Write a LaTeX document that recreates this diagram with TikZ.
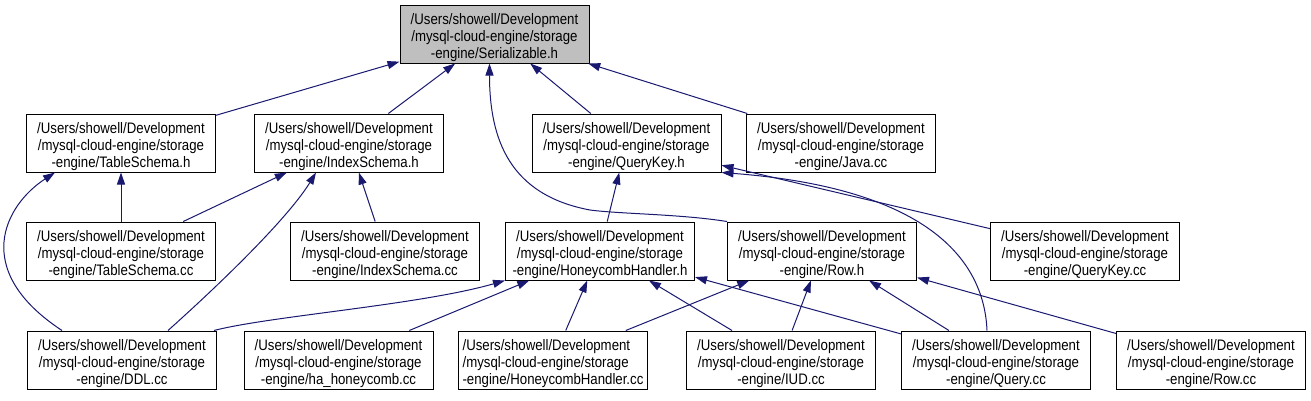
\documentclass[tikz,border=0pt]{standalone}
\usepackage{fontspec}
\setmainfont{Liberation Sans}[FakeStretch=0.87]
\usetikzlibrary{arrows.meta,calc}
\definecolor{edgeblue}{HTML}{191970}
\newcommand{\fstrut}{\rule{0pt}{18pt}}
\begin{document}
\begin{tikzpicture}[x=1pt,y=-1pt,
  file/.style={draw=black,line width=1pt,fill=white,minimum width=189pt,minimum height=58pt,inner sep=0pt,align=center,font=\fontsize{15.2}{16.8}\selectfont},
  root/.style={file,fill=black!25},
  edge/.style={draw=edgeblue,line width=1pt,-{Triangle[length=12pt,width=8pt]}}]
\useasboundingbox (0,0) rectangle (1311,400);
% row 1
\node[root] (Ser) at (494.5,34) {\fstrut/Users/showell/Development\\/mysql-cloud-engine/storage\\-engine/Serializable.h};
% row 2
\node[file] (TSh) at (121,143) {\fstrut/Users/showell/Development\\/mysql-cloud-engine/storage\\-engine/TableSchema.h};
\node[file] (ISh) at (349,143) {\fstrut/Users/showell/Development\\/mysql-cloud-engine/storage\\-engine/IndexSchema.h};
\node[file] (QKh) at (626.5,143) {\fstrut/Users/showell/Development\\/mysql-cloud-engine/storage\\-engine/QueryKey.h};
\node[file] (Java) at (841,143) {\fstrut/Users/showell/Development\\/mysql-cloud-engine/storage\\-engine/Java.cc};
% row 3
\node[file] (TScc) at (121,251) {\fstrut/Users/showell/Development\\/mysql-cloud-engine/storage\\-engine/TableSchema.cc};
\node[file] (IScc) at (385,251) {\fstrut/Users/showell/Development\\/mysql-cloud-engine/storage\\-engine/IndexSchema.cc};
\node[file] (HHh) at (600,251) {\fstrut/Users/showell/Development\\/mysql-cloud-engine/storage\\-engine/HoneycombHandler.h};
\node[file] (Rowh) at (822,251) {\fstrut/Users/showell/Development\\/mysql-cloud-engine/storage\\-engine/Row.h};
\node[file] (QKcc) at (1085,251) {\fstrut/Users/showell/Development\\/mysql-cloud-engine/storage\\-engine/QueryKey.cc};
% row 4
\node[file] (DDL) at (122,360) {\fstrut/Users/showell/Development\\/mysql-cloud-engine/storage\\-engine/DDL.cc};
\node[file] (ha) at (338.5,360) {\fstrut/Users/showell/Development\\/mysql-cloud-engine/storage\\-engine/ha\_honeycomb.cc};
\node[file,align=left] (HHcc) at (553,360) {\fstrut/Users/showell/Development\\/mysql-cloud-engine/storage\\-engine/HoneycombHandler.cc};
\node[file] (IUD) at (781,360) {\fstrut/Users/showell/Development\\/mysql-cloud-engine/storage\\-engine/IUD.cc};
\node[file] (Query) at (996,360) {\fstrut/Users/showell/Development\\/mysql-cloud-engine/storage\\-engine/Query.cc};
\node[file] (Rowcc) at (1211,360) {\fstrut/Users/showell/Development\\/mysql-cloud-engine/storage\\-engine/Row.cc};
% edges to Serializable.h
\draw[edge] (TSh) -- (Ser);
\draw[edge] (ISh) -- (Ser);
\draw[edge] (QKh) -- (Ser);
\draw[edge] (Java) -- (Ser);
\draw[edge] (Rowh.north west) .. controls (680,214) and (620,214) .. (590,210) .. controls (510,195) and (489.5,140) .. ($(Ser.south)+(-5,0)$);
% edges to TableSchema.h
\draw[edge] (TScc) -- (TSh);
\draw[edge] ($(DDL.north west)+(35,0)$) .. controls (-30,270) and (5,205) .. ($(TSh.south west)+(29,0)$);
% edges to IndexSchema.h
\draw[edge] (TScc) -- (ISh);
\draw[edge] (IScc) -- (ISh);
\draw[edge] ($(DDL.north)+(46,0)$) .. controls (230,275) and (290,215) .. ($(ISh.south west)+(62,0)$);
% edges to QueryKey.h
\draw[edge] (HHh) -- (QKh);
\draw[edge] (QKcc) -- (QKh);
\draw[edge] ($(Query.north)+(-9,0)$) .. controls (984,258) and (925,188) .. (QKh.south east);
% edges to HoneycombHandler.h
\draw[edge] ($(DDL.north east)+(-3,0)$) .. controls (270,316) and (420,305) .. (HHh.south west);
\draw[edge] (ha) -- (HHh);
\draw[edge] (HHcc) -- (HHh);
\draw[edge] (IUD) -- (HHh);
\draw[edge] (Query) -- (HHh);
% edges to Row.h
\draw[edge] (HHcc) -- (Rowh);
\draw[edge] (IUD) -- (Rowh);
\draw[edge] (Query) -- (Rowh);
\draw[edge] (Rowcc) -- (Rowh);
\end{tikzpicture}
\end{document}
